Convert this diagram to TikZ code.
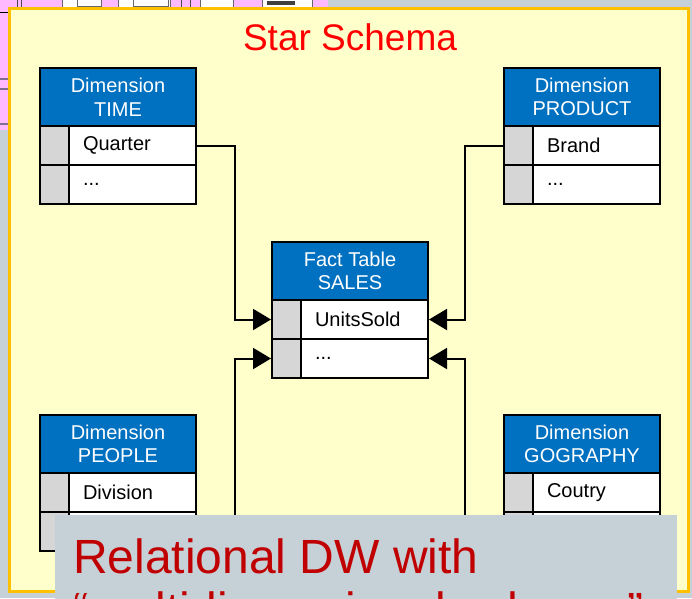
\documentclass[tikz,border=0pt]{standalone}
\usepackage{fontspec}
\setmainfont{Liberation Sans}
\usepackage{xcolor}
\usetikzlibrary{arrows.meta}

\definecolor{hdblue}{HTML}{0070C0}
\definecolor{keygray}{HTML}{D6D6D6}
\definecolor{panelyellow}{HTML}{FFFFCC}
\definecolor{panelorange}{HTML}{FFC000}
\definecolor{bggray}{HTML}{C6D0D7}
\definecolor{pinkbg}{HTML}{FFB9FF}
\definecolor{lilac}{HTML}{806E90}
\definecolor{notered}{HTML}{C00000}

\begin{document}
\begin{tikzpicture}[x=1pt, y=-1pt,
    tblhead/.style={draw=black, line width=2pt, fill=hdblue, text=white, minimum width=156pt,
        minimum height=58pt, inner sep=0pt, align=center, font=\fontsize{20}{23.5}\selectfont},
    keycell/.style={draw=black, line width=2pt, fill=keygray, minimum width=29pt,
        minimum height=39pt, inner sep=0pt},
    fieldcell/.style={draw=black, line width=2pt, fill=white, minimum height=39pt, text width=99pt,
        inner xsep=14pt, inner ysep=0pt, align=left, font=\fontsize{20}{23.5}\selectfont},
    link/.style={line width=2pt, -{Triangle[length=18pt,width=21pt]}}]

    % Page frame
    \clip (0,0) rectangle (692,598);
    \fill[bggray] (0,0) rectangle (692,598);

    % Slide behind (pink corner)
    \fill[pinkbg] (0,0) rectangle (328,130);
    \foreach \xa in {17,21,170,181,190} {
        \draw[line width=0.6pt, black!70] (\xa,0) -- (\xa,10);
    }
    \filldraw[fill=white, draw=black!60, line width=0.5pt] (62,-1) rectangle (77,8);
    \filldraw[fill=white, draw=black!60, line width=0.5pt] (77,-1) rectangle (101,6);
    \filldraw[fill=white, draw=black!60, line width=0.5pt] (118,-1) rectangle (170,9);
    \filldraw[fill=white, draw=black!60, line width=0.5pt] (133,-1) rectangle (168,6);
    \filldraw[fill=white, draw=black!60, line width=0.5pt] (200,-1) rectangle (233,9);
    \filldraw[fill=white, draw=black!60, line width=0.5pt] (262,-1) rectangle (312,9);
    \fill[black!75] (267,1) rectangle (295,5);
    \draw[line width=0.8pt] (0,12) -- (9,12);
    \foreach \ya in {79,89,124} {
        \draw[lilac, line width=1.2pt] (0,\ya) -- (9,\ya);
    }

    % Star schema panel
    \filldraw[fill=panelyellow, draw=panelorange, line width=3pt] (9.5,8.5) rectangle (688.5,591.5);
    \node[text=red, font=\fontsize{37}{40}\selectfont] (title) at (350,37) {Star Schema};

    % Tables
    \foreach \n/\x/\y/\hdA/\hdB/\fld in {
        time/40/68/Dimension/TIME/Quarter,
        prod/504/68/Dimension/PRODUCT/Brand,
        fact/272/242/Fact Table/SALES/UnitsSold,
        peop/40/415/Dimension/PEOPLE/Division,
        geo/504/415/Dimension/GOGRAPHY/Coutry} {
        \node[tblhead] (\n-hd) at ({\x+78},{\y+29}) {\hdA\\\hdB};
        \node[keycell] (\n-k1) at ({\x+14.5},{\y+77.5}) {};
        \node[fieldcell] (\n-f1) at ({\x+92.5},{\y+77.5}) {\fld};
        \node[keycell] (\n-k2) at ({\x+14.5},{\y+116.5}) {};
        \node[fieldcell] (\n-f2) at ({\x+92.5},{\y+116.5}) {...};
    }

    % Links to the fact table
    \draw[link] (time-f1.east) -- ++(38,0) |- (fact-k1.west);
    \draw[link] (prod-k1.west) -- ++(-38,0) |- (fact-f1.east);
    \draw[link] (peop-f2.east) -- ++(38,0) |- (fact-k2.west);
    \draw[link] (geo-k2.west) -- ++(-38,0) |- (fact-f2.east);

    % Caption box in front
    \fill[bggray] (55,515) rectangle (677,600);
    \node[anchor=base west, inner sep=0pt, text=notered, font=\fontsize{48}{50}\selectfont]
        (note1) at (73,573) {Relational DW with};
    \node[anchor=base west, inner sep=0pt, text=notered, font=\fontsize{48}{50}\selectfont]
        (note2) at (73,626) {“multidimensional schema”};
\end{tikzpicture}
\end{document}
